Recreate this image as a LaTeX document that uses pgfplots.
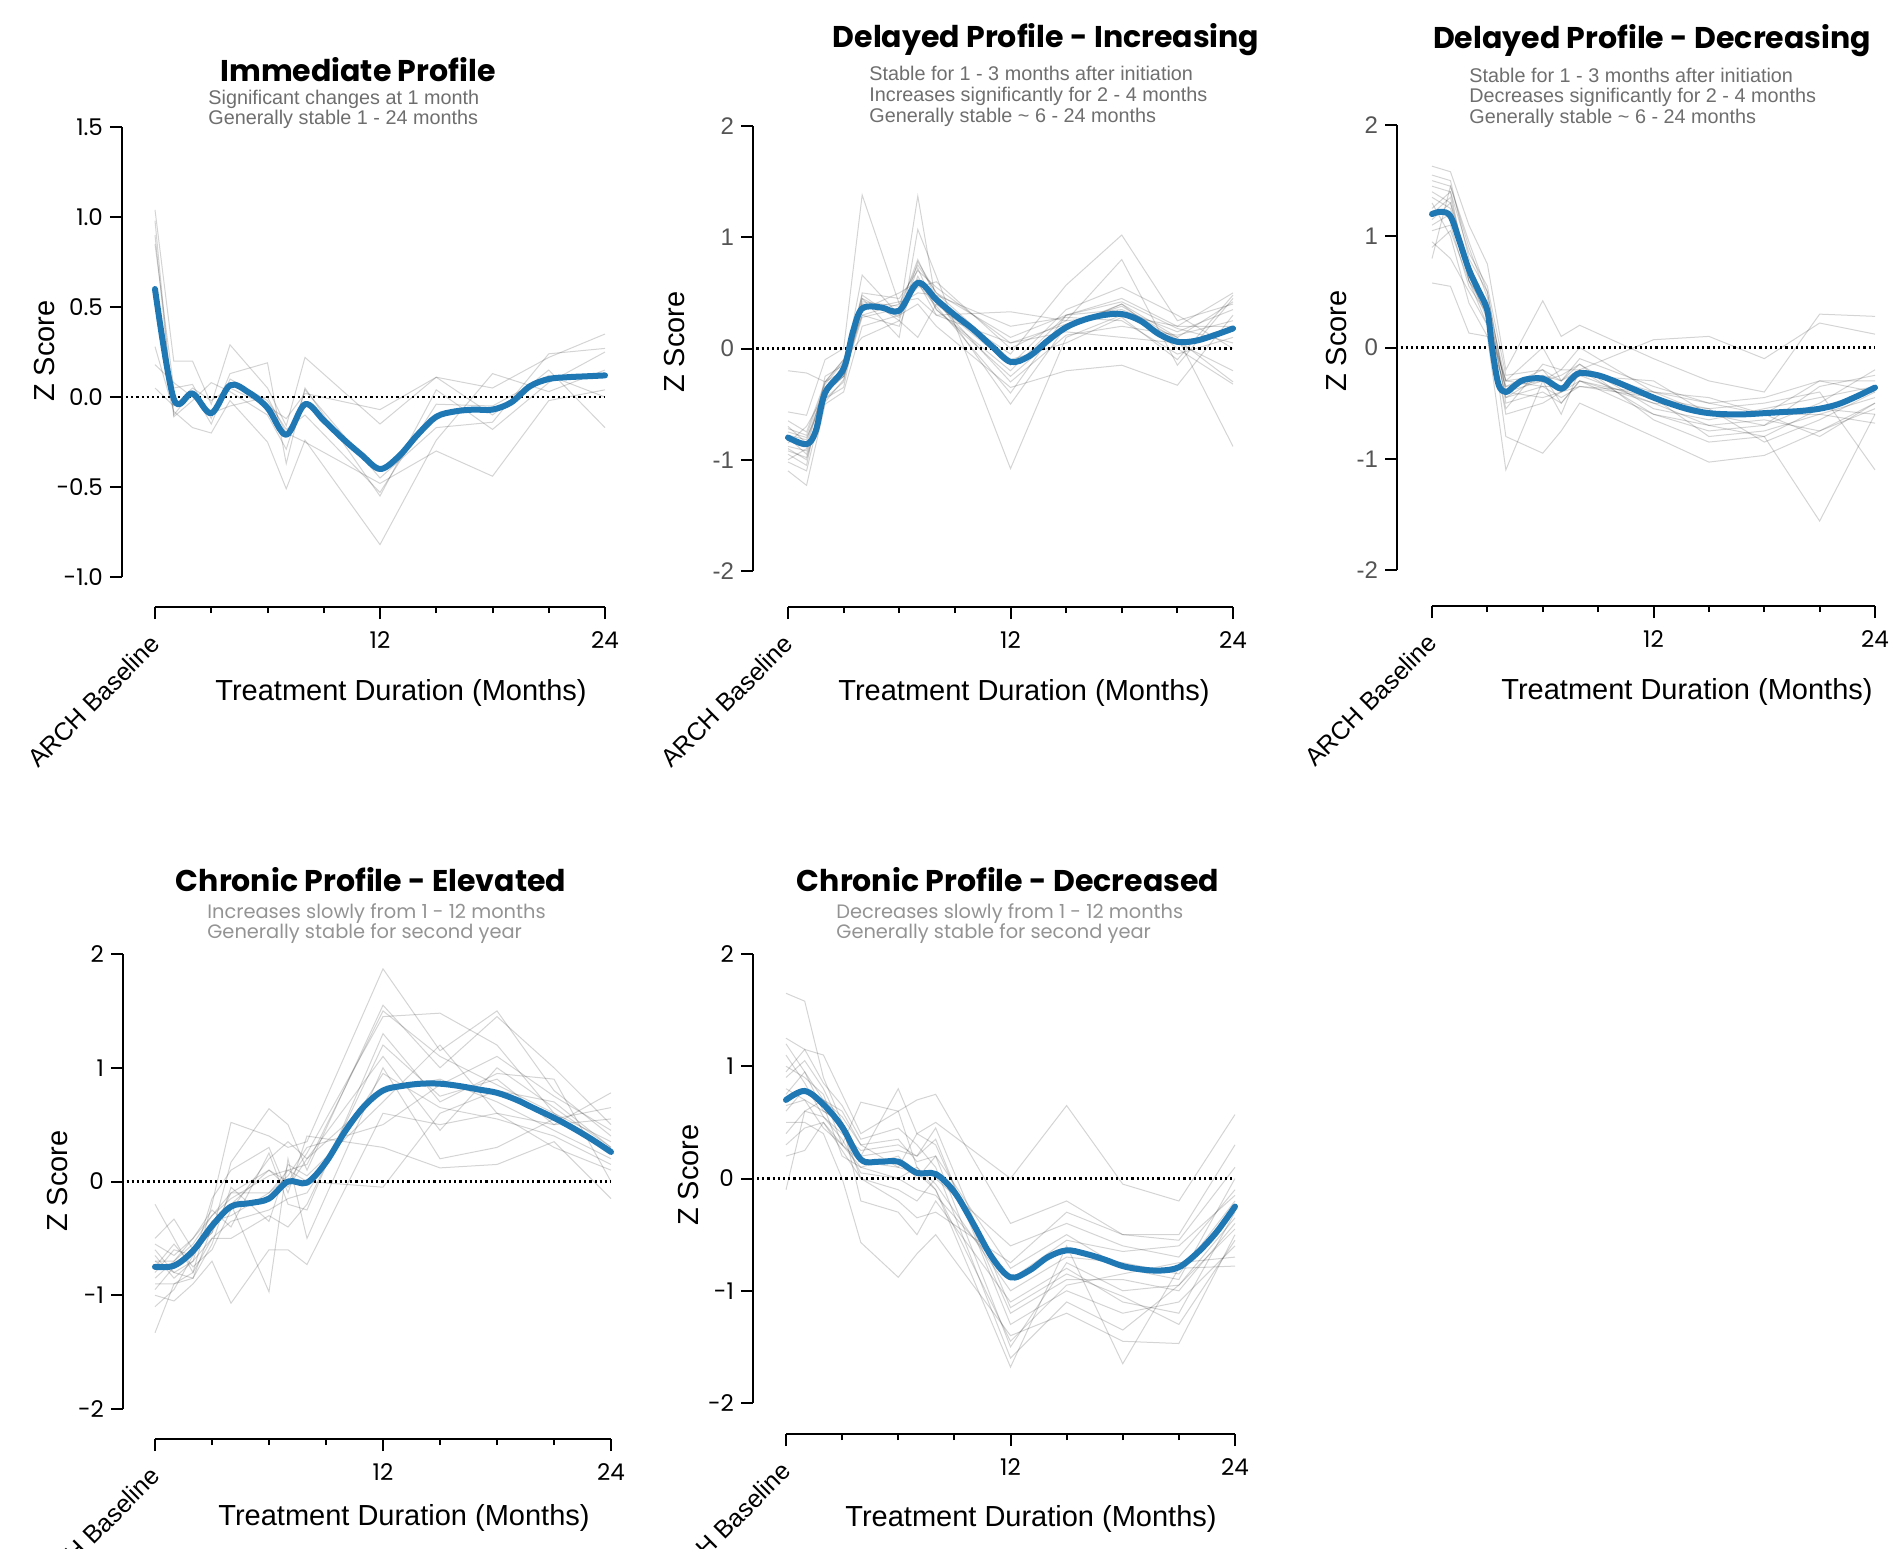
\documentclass[border=0pt]{standalone}
\usepackage{pgfplots}
\usepackage{pgfplotstable}
\pgfplotsset{compat=1.18}
\usepackage{fontspec}
\setmainfont{Liberation Sans}
\newfontfamily\pop{Poppins}
\definecolor{zblue}{HTML}{1F77B4}
\definecolor{subg}{HTML}{6E6E6E}
\definecolor{subgb}{HTML}{939393}
\definecolor{tickg}{HTML}{555555}
\newcommand\titlefont{\pop\bfseries\fontsize{15pt}{17pt}\selectfont}
\newcommand\subfont{\fontsize{9.9pt}{11pt}\selectfont\color{subg}}
\newcommand\subfontb{\pop\fontsize{9.7pt}{11pt}\selectfont\color{subgb}}
\newcommand\labfont{\fontsize{14.5pt}{16pt}\selectfont}
\newcommand\tickfont{\pop\fontsize{11.5pt}{13pt}\selectfont}
\newcommand\tickfontg{\fontsize{12pt}{13pt}\selectfont\color{tickg}}
\newcommand\archfont{\normalfont\fontsize{12.5pt}{14pt}\selectfont}

\pgfplotstableread{
t a b c d e f g
0 1.04 0.98 0.85 0.28 0.18 0.05 0.90
1 0.20 -0.11 0.05 -0.08 0.08 -0.05 -0.10
2 0.20 -0.02 0.07 -0.17 0.00 0.05 0.03
3 -0.04 0.08 -0.12 -0.20 -0.09 -0.02 -0.15
4 0.29 0.03 0.13 -0.02 -0.05 0.05 0.10
6 0.05 -0.10 0.19 -0.25 0.00 -0.05 -0.02
7 -0.16 -0.29 -0.37 -0.51 -0.20 -0.12 -0.18
8 0.22 0.04 0.05 -0.24 -0.25 0.02 -0.10
12 -0.15 -0.45 -0.55 -0.82 -0.48 -0.07 -0.53
15 0.11 -0.17 0.04 -0.24 -0.30 0.11 -0.04
18 0.05 -0.14 -0.18 0.13 -0.44 -0.10 -0.05
21 0.22 0.24 0.08 0.03 -0.02 0.15 0.12
24 0.35 0.27 0.25 0.15 0.04 -0.17 0.00
}\tA

\pgfplotstableread{
t a b c d e f g h i j k l m n o p
0 -0.57 -0.20 -0.80 -0.90 -1.10 -0.70 -1.00 -0.75 -0.95 -0.85 -0.65 -0.92 -0.78 -0.88 -0.72 -1.02
1 -0.60 -0.22 -0.95 -1.00 -1.23 -0.85 -0.90 -0.80 -1.05 -0.70 -0.75 -0.98 -0.82 -0.92 -0.78 -1.10
2 -0.10 -0.30 -0.45 -0.40 -0.50 -0.35 -0.30 -0.45 -0.25 -0.40 -0.30 -0.42 -0.35 -0.48 -0.32 -0.40
3 0.00 -0.20 -0.35 -0.20 -0.39 -0.25 -0.10 -0.30 -0.15 -0.25 -0.10 -0.22 -0.18 -0.28 -0.12 -0.25
4 1.38 0.66 0.45 0.35 0.20 0.40 0.10 0.50 0.30 0.42 0.45 0.30 0.40 0.35 0.48 0.28
6 0.40 0.30 0.10 0.50 0.30 0.35 0.25 0.45 0.20 0.38 0.28 0.40 0.32 0.42 0.25 0.36
7 0.75 1.37 1.07 0.60 0.40 0.80 0.10 0.70 0.65 0.55 0.72 0.50 0.62 0.45 0.78 0.58
8 0.50 0.40 0.65 0.30 0.20 0.45 0.40 0.55 0.35 0.60 0.35 0.48 0.42 0.30 0.50 0.38
12 0.10 -0.05 -1.08 0.33 -0.35 -0.50 -0.15 0.05 -0.20 0.00 -0.25 0.20 -0.30 0.05 -0.10 -0.40
15 0.30 0.57 0.10 0.25 -0.20 0.20 0.35 0.15 0.30 0.25 0.18 0.28 0.12 0.22 0.05 0.30
18 0.45 1.02 0.30 0.80 -0.15 0.40 0.55 0.10 0.35 0.30 0.40 0.25 0.20 0.38 0.28 0.42
21 0.20 0.25 0.10 -0.15 -0.33 0.00 0.30 0.05 0.15 0.20 0.10 -0.05 0.12 0.08 -0.10 0.18
24 0.50 0.40 -0.88 0.45 0.30 -0.32 0.00 -0.20 0.35 0.20 0.42 0.10 0.25 -0.30 0.48 0.05
}\tB

\pgfplotstableread{
t a b c d e f g h i j k l m n o p
0 1.63 1.55 1.45 1.30 1.10 0.95 0.80 0.58 1.40 1.20 1.25 1.05 1.35 0.90 1.50 1.15
1 1.58 1.50 1.40 1.00 1.20 0.80 1.45 0.55 1.30 1.35 1.40 1.10 1.25 1.05 1.45 1.30
2 1.10 0.80 0.60 0.40 0.70 0.50 0.90 0.13 0.75 0.65 0.85 0.55 0.70 0.60 0.95 0.60
3 0.75 0.50 0.30 0.10 0.40 0.20 0.45 0.10 0.35 0.25 0.55 0.30 0.40 0.20 0.50 0.35
4 -0.20 -0.40 -0.60 -1.10 -0.80 -0.30 -0.50 -0.35 -0.45 -0.30 -0.25 -0.45 -0.30 -0.55 -0.40 -0.35
6 0.42 -0.30 -0.50 -0.30 -0.95 0.00 -0.40 -0.20 -0.25 -0.35 -0.20 -0.35 -0.25 -0.15 -0.45 -0.30
7 0.10 -0.60 -0.40 -0.20 -0.75 -0.30 -0.50 -0.40 -0.30 -0.45 -0.30 -0.35 -0.50 -0.20 -0.40 -0.25
8 0.20 -0.20 -0.30 0.00 -0.50 -0.20 -0.30 -0.25 -0.15 -0.35 -0.10 -0.25 -0.30 -0.20 -0.35 -0.15
12 -0.10 -0.40 -0.60 -0.40 -0.80 0.07 -0.50 -0.30 -0.55 -0.45 -0.35 -0.50 -0.45 -0.60 -0.40 -0.65
15 -0.30 -0.50 -0.70 -0.60 -1.03 0.10 -0.55 -0.60 -0.65 -0.80 -0.50 -0.70 -0.55 -0.75 -0.45 -0.85
18 -0.40 -0.60 -0.80 -0.60 -0.97 -0.10 -0.50 -0.70 -0.55 -0.75 -0.45 -0.65 -0.85 -0.70 -0.60 -0.80
21 0.30 -0.30 -1.56 -0.60 -0.75 0.22 -0.40 -0.50 -0.45 -0.60 -0.30 -0.75 -0.65 -0.35 -0.80 -0.55
24 0.28 -0.40 -0.60 -0.68 -0.50 0.12 -1.10 -0.20 -0.35 -0.45 -0.30 -0.55 -0.40 -0.25 -0.50 -0.60
}\tC

\pgfplotstableread{
t a b c d e f g h i k l m n o p
0 -0.20 -0.50 -0.70 -0.90 -1.00 -1.33 -0.60 -0.80 -0.75 -0.85 -0.65 -0.95 -0.55 -0.70 -1.10
1 -0.50 -0.33 -0.70 -0.90 -1.05 -0.90 -0.80 -0.60 -0.55 -0.70 -0.85 -0.75 -0.65 -0.80 -0.95
2 -0.80 -0.60 -0.50 -0.80 -0.90 -0.85 -0.70 -0.65 -0.75 -0.55 -0.70 -0.60 -0.50 -0.85 -0.65
3 -0.20 -0.45 -0.30 -0.50 -0.70 -0.40 -0.15 -0.35 -0.60 -0.30 -0.50 -0.45 -0.25 -0.55 -0.35
4 0.52 0.17 -0.10 -0.50 -1.07 -0.20 0.10 -0.30 -0.25 -0.15 -0.35 -0.10 -0.40 -0.05 -0.20
6 0.40 0.64 0.10 -0.30 -0.60 -0.97 0.30 -0.10 0.20 0.05 -0.25 -0.10 0.25 -0.35 0.10
7 0.30 0.50 0.00 -0.40 -0.60 0.20 -0.10 0.10 0.35 0.10 -0.15 0.05 -0.20 0.15 -0.05
8 0.35 0.10 0.25 -0.20 -0.73 -0.50 0.40 0.00 0.20 0.15 -0.10 0.30 -0.25 0.05 0.20
12 1.87 1.55 1.45 1.20 0.60 1.00 0.30 -0.05 0.80 1.50 0.95 0.50 1.30 0.70 1.10
15 1.15 1.00 1.48 0.75 0.50 0.20 0.12 0.60 0.90 1.10 0.65 0.85 0.70 1.20 0.45
18 1.50 1.45 1.20 0.90 0.60 0.30 0.15 0.80 0.70 0.85 0.55 1.10 0.95 0.60 1.00
21 0.80 1.00 0.60 0.50 0.30 0.55 0.35 0.70 0.45 0.60 0.40 0.75 0.90 0.50 0.65
24 0.40 0.50 0.25 0.78 0.10 0.65 -0.15 0.30 0.20 0.35 0.15 0.45 0.00 0.55 0.30
}\tD

\pgfplotstableread{
t a b c d e f g h i j k l m n o p
0 1.65 1.25 1.00 0.80 0.50 0.20 -0.10 0.90 1.10 0.60 0.75 0.40 0.95 0.30 1.20 0.65
1 1.58 1.15 0.90 0.70 0.50 0.25 0.60 1.05 0.85 0.80 0.95 0.60 1.15 0.45 0.95 0.70
2 0.90 1.10 0.75 0.60 0.40 0.50 0.70 0.80 0.55 0.65 0.70 0.55 0.85 0.50 0.60 0.45
3 0.50 0.75 0.30 0.50 0.00 0.30 0.60 0.45 0.40 0.20 0.55 0.35 0.65 0.25 0.50 0.30
4 0.20 0.40 0.10 -0.20 -0.57 0.68 0.30 0.00 0.25 0.10 0.30 0.05 0.35 0.00 0.20 0.15
6 0.80 0.60 0.20 -0.30 -0.88 0.60 0.10 -0.10 0.30 0.00 0.35 0.00 0.45 -0.20 0.25 0.10
7 0.40 0.70 0.00 -0.50 -0.67 0.10 0.40 -0.20 0.20 0.10 0.15 -0.10 0.30 -0.35 0.20 0.05
8 0.50 0.75 0.20 -0.20 -0.50 -0.10 0.30 0.00 0.35 -0.05 0.20 -0.15 0.10 -0.30 0.45 -0.10
12 0.00 -0.40 -0.80 -1.10 -1.40 -1.68 -1.20 -0.60 -1.30 -1.00 -1.50 -0.90 -1.60 -0.75 -1.15 -1.45
15 0.65 -0.20 -0.50 -0.80 -1.20 -0.60 -0.90 -0.40 -1.00 -0.70 -0.75 -0.55 -1.10 -0.30 -0.85 -0.95
18 -0.05 -0.50 -0.80 -1.10 -1.45 -1.65 -0.90 -0.60 -1.20 -0.75 -1.00 -0.65 -1.35 -0.50 -1.05 -0.85
21 -0.20 -0.50 -0.90 -1.20 -1.47 -0.80 -1.00 -0.70 -1.10 -0.85 -0.95 -0.60 -0.95 -0.55 -1.30 -0.75
24 0.57 0.30 0.00 -0.30 -0.50 -0.78 -0.40 -0.10 -0.60 -0.20 -0.45 -0.15 -0.35 0.10 -0.55 -0.70
}\tE

\pgfplotsset{
  prism/.style={
    scale only axis, clip=false, anchor=south west,
    axis lines=left,
    axis line style={-, line width=1pt, black},
    xmin=0, xmax=24,
    xtick={12,24}, xticklabels={12,24},
    minor xtick={3,6,9,15,18,21},
    extra x ticks={0}, extra x tick labels={ARCH Baseline},
    extra x tick style={xticklabel style={rotate=45, anchor=north east, font=\archfont, xshift=-2pt, yshift=2.5pt}},
    tick align=outside,
    major tick length=6pt, minor tick length=3pt,
    tick style={black, line width=1pt},
    xticklabel style={font=\tickfont, yshift=-2.5pt},
    yticklabel style={font=\tickfont},
  },
  indiv/.style={black, opacity=0.17, line width=0.5pt},
  meanline/.style={zblue, line width=3pt, smooth, tension=0.55, line cap=round, line join=round},
  zeroline/.style={black, line width=1.1pt, dash pattern=on 1.1pt off 1.5pt},
}

\begin{document}
\begin{tikzpicture}
\path[use as bounding box] (0,0) rectangle (948pt,-774pt);

% ---------- Panel 1 ----------
\begin{axis}[prism, at={(77.5pt,-288.5pt)}, width=225pt, height=225pt,
  ymin=-1, ymax=1.5, ytick={-1,-0.5,0,0.5,1,1.5},
  yticklabels={-1.0,-0.5,0.0,0.5,1.0,1.5},
  axis x line shift=15pt, axis y line shift=16.5pt]
\pgfplotsinvokeforeach{a,b,c,d,e,f,g}{\addplot[indiv] table[x=t,y=#1]{\tA};}
\addplot[zeroline] coordinates {(-1.55,0) (24,0)};
\addplot[meanline] coordinates {(0,0.60) (1,-0.01) (2,0.02) (3,-0.09) (4,0.065) (5,0.025) (6,-0.06) (7,-0.21) (8,-0.04) (9,-0.13) (10,-0.23) (11,-0.32) (12,-0.40) (13,-0.33) (14,-0.21) (15,-0.11) (16,-0.08) (17,-0.07) (18,-0.07) (19,-0.03) (20,0.06) (21,0.10) (22,0.11) (23,0.115) (24,0.12)};
\end{axis}

% ---------- Panel 2 ----------
\begin{axis}[prism, at={(394pt,-285.5pt)}, width=222.5pt, height=222.5pt,
  ymin=-2, ymax=2, ytick={-2,-1,0,1,2}, yticklabels={-2,-1,0,1,2},
  yticklabel style={font=\tickfontg},
  axis x line shift=18pt, axis y line shift=17.5pt]
\pgfplotsinvokeforeach{a,b,c,d,e,f,g,h,i,j,k,l,m,n,o,p}{\addplot[indiv] table[x=t,y=#1]{\tB};}
\addplot[zeroline] coordinates {(-1.7,0) (24,0)};
\addplot[meanline] coordinates {(0,-0.80) (1,-0.86) (1.5,-0.74) (2,-0.40) (3,-0.18) (3.5,0.15) (4,0.36) (5,0.37) (6,0.34) (7,0.59) (8,0.44) (9,0.30) (10,0.17) (11,0.02) (12,-0.12) (13,-0.07) (14,0.07) (15,0.19) (16,0.26) (17,0.30) (18,0.31) (19,0.25) (20,0.13) (21,0.06) (22,0.07) (23,0.12) (24,0.18)};
\end{axis}

% ---------- Panel 3 ----------
\begin{axis}[prism, at={(716pt,-285pt)}, width=221.5pt, height=222.5pt,
  ymin=-2, ymax=2, ytick={-2,-1,0,1,2}, yticklabels={-2,-1,0,1,2},
  yticklabel style={font=\tickfontg},
  axis x line shift=18pt, axis y line shift=17.5pt]
\pgfplotsinvokeforeach{a,b,c,d,e,f,g,h,i,j,k,l,m,n,o,p}{\addplot[indiv] table[x=t,y=#1]{\tC};}
\addplot[zeroline] coordinates {(-1.7,0) (24,0)};
\addplot[meanline] coordinates {(0,1.20) (0.5,1.22) (1,1.18) (1.5,0.95) (2,0.70) (2.5,0.52) (3,0.33) (3.25,0.0) (3.6,-0.33) (4,-0.40) (4.5,-0.34) (5,-0.29) (6,-0.28) (7,-0.37) (7.5,-0.29) (8,-0.23) (9,-0.25) (10,-0.31) (11,-0.38) (12,-0.45) (13,-0.51) (14,-0.56) (15,-0.59) (16,-0.60) (17,-0.60) (18,-0.59) (19,-0.58) (20,-0.57) (21,-0.55) (22,-0.51) (23,-0.44) (24,-0.36)};
\end{axis}

% ---------- Panel 4 ----------
\begin{axis}[prism, at={(77.5pt,-704.5pt)}, width=228pt, height=227.5pt,
  ymin=-2, ymax=2, ytick={-2,-1,0,1,2}, yticklabels={-2,-1,0,1,2},
  axis x line shift=15pt, axis y line shift=16pt]
\pgfplotsinvokeforeach{a,b,c,d,e,f,g,h,i,k,l,m,n,o,p}{\addplot[indiv] table[x=t,y=#1]{\tD};}
\addplot[zeroline] coordinates {(-1.5,0) (24,0)};
\addplot[meanline] coordinates {(0,-0.75) (1,-0.74) (2,-0.61) (3,-0.39) (4,-0.22) (5,-0.19) (6,-0.15) (7,0.0) (8,-0.01) (9,0.17) (10,0.44) (11,0.66) (12,0.80) (13,0.84) (14,0.86) (15,0.86) (16,0.84) (17,0.81) (18,0.78) (19,0.72) (20,0.64) (21,0.56) (22,0.47) (23,0.37) (24,0.26)};
\end{axis}

% ---------- Panel 5 ----------
\begin{axis}[prism, at={(393pt,-701.5pt)}, width=224.5pt, height=224.5pt,
  ymin=-2, ymax=2, ytick={-2,-1,0,1,2}, yticklabels={-2,-1,0,1,2},
  axis x line shift=15.5pt, axis y line shift=16.5pt]
\pgfplotsinvokeforeach{a,b,c,d,e,f,g,h,i,j,k,l,m,n,o,p}{\addplot[indiv] table[x=t,y=#1]{\tE};}
\addplot[zeroline] coordinates {(-1.55,0) (24,0)};
\addplot[meanline] coordinates {(0,0.70) (1,0.78) (2,0.66) (3,0.46) (4,0.17) (5,0.15) (6,0.15) (7,0.05) (8,0.04) (9,-0.12) (10,-0.40) (11,-0.70) (12,-0.88) (13,-0.82) (14,-0.70) (15,-0.64) (16,-0.67) (17,-0.72) (18,-0.78) (19,-0.81) (20,-0.82) (21,-0.79) (22,-0.66) (23,-0.48) (24,-0.25)};
\end{axis}

% ---------- Titles ----------
\node[font=\titlefont] at (179pt,-35pt) {Immediate Profile};
\node[font=\titlefont] at (523pt,-20pt) {Delayed Profile - Increasing};
\node[font=\titlefont] at (826pt,-20.5pt) {Delayed Profile - Decreasing};
\node[font=\titlefont] at (185.5pt,-440pt) {Chronic Profile - Elevated};
\node[font=\titlefont] at (504pt,-440pt) {Chronic Profile - Decreased};

% ---------- Subtitles ----------
\begin{scope}[every node/.style={anchor=base west, inner sep=0pt}]
\node[font=\subfont] at (104pt,-52pt) {Significant changes at 1 month};
\node[font=\subfont] at (104pt,-62pt) {Generally stable 1 - 24 months};
\node[font=\subfont] at (434.5pt,-40pt) {Stable for 1 - 3 months after initiation};
\node[font=\subfont] at (434.5pt,-50.5pt) {Increases significantly for 2 - 4 months};
\node[font=\subfont] at (434.5pt,-61pt) {Generally stable \textasciitilde\ 6 - 24 months};
\node[font=\subfont] at (734.5pt,-41pt) {Stable for 1 - 3 months after initiation};
\node[font=\subfont] at (734.5pt,-51.25pt) {Decreases significantly for 2 - 4 months};
\node[font=\subfont] at (734.5pt,-61.5pt) {Generally stable \textasciitilde\ 6 - 24 months};
\node[font=\subfontb] at (103.5pt,-459pt) {Increases slowly from 1 - 12 months};
\node[font=\subfontb] at (103.5pt,-469pt) {Generally stable for second year};
\node[font=\subfontb] at (418pt,-459pt) {Decreases slowly from 1 - 12 months};
\node[font=\subfontb] at (418pt,-469pt) {Generally stable for second year};
\end{scope}

% ---------- Axis labels ----------
\node[font=\labfont, rotate=90] at (22.5pt,-175.5pt) {Z Score};
\node[font=\labfont, rotate=90] at (337.5pt,-171pt) {Z Score};
\node[font=\labfont, rotate=90] at (668.5pt,-170.5pt) {Z Score};
\node[font=\labfont, rotate=90] at (29pt,-590.5pt) {Z Score};
\node[font=\labfont, rotate=90] at (344.5pt,-587.5pt) {Z Score};
\node[font=\labfont] at (200.5pt,-346.5pt) {Treatment Duration (Months)};
\node[font=\labfont] at (512pt,-346.5pt) {Treatment Duration (Months)};
\node[font=\labfont] at (843.5pt,-346pt) {Treatment Duration (Months)};
\node[font=\labfont] at (202pt,-759pt) {Treatment Duration (Months)};
\node[font=\labfont] at (515.5pt,-759.5pt) {Treatment Duration (Months)};
\end{tikzpicture}
\end{document}
